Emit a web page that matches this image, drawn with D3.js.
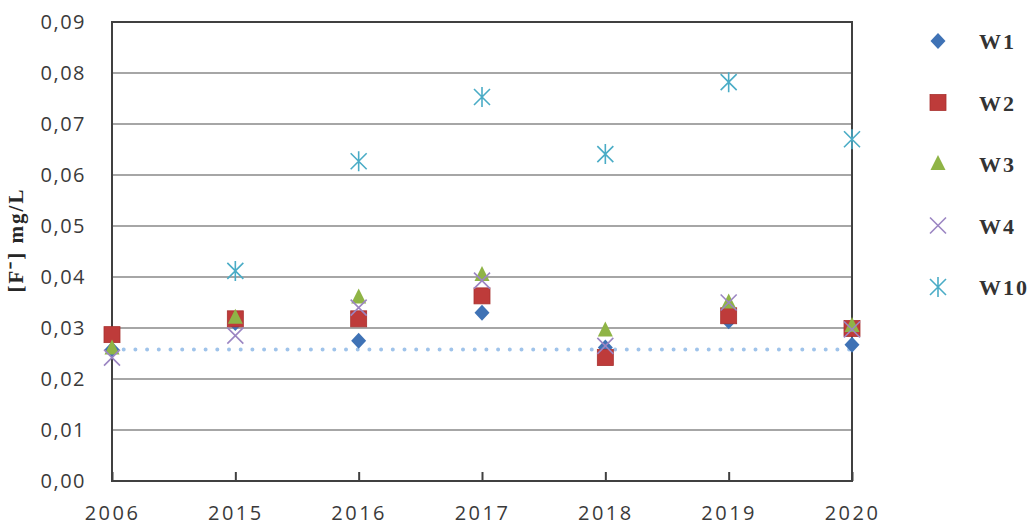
<!DOCTYPE html>
<html>
<head>
<meta charset="utf-8">
<script src="https://cdn.jsdelivr.net/npm/d3@7"></script>
<style>
  body { margin: 0; background: #fff; }
  svg { display: block; }
</style>
</head>
<body>
<div class="chart-container"></div>
<script>
// data
const years = ["2006", "2015", "2016", "2017", "2018", "2019", "2020"];
const w1  = [0.0258, 0.0310, 0.0275, 0.0330, 0.0262, 0.0313, 0.0267];
const w2  = [0.0287, 0.0318, 0.0318, 0.0363, 0.0242, 0.0324, 0.0299];
const w3  = [0.0260, 0.0320, 0.0360, 0.0404, 0.0295, 0.0350, 0.0304];
const w4  = [0.0242, 0.0285, 0.0340, 0.0393, 0.0265, 0.0350, 0.0297];
const w10 = [null,   0.0412, 0.0627, 0.0753, 0.0641, 0.0782, 0.0670];
const limit = 0.0258;
const yTicks = [0, 0.01, 0.02, 0.03, 0.04, 0.05, 0.06, 0.07, 0.08, 0.09];

const series = [
  {name: "W1",  values: w1,  shape: "diamond",  color: "#3f72b5"},
  {name: "W2",  values: w2,  shape: "square",   color: "#be3b3a"},
  {name: "W3",  values: w3,  shape: "triangle", color: "#8fb446"},
  {name: "W4",  values: w4,  shape: "x",        color: "#9b85c2"},
  {name: "W10", values: w10, shape: "star",     color: "#4aacc6"}
];

const W = 1036, H = 531;
const margin = {top: 22, right: 184, bottom: 50, left: 112};
const width = W - margin.left - margin.right,
      height = H - margin.top - margin.bottom;

const svg = d3.select(".chart-container")
  .append("svg")
  .attr("width", W)
  .attr("height", H);

const g = svg.append("g")
  .attr("transform", `translate(${margin.left},${margin.top})`);

const xScale = d3.scalePoint().domain(years).range([0, width]);
const yScale = d3.scaleLinear().domain([0, 0.09]).range([height, 0]);

const fmt = v => d3.format(".2f")(v).replace(".", ",");

// gridlines
g.append("g")
  .selectAll("line")
  .data(yTicks.slice(1, -1))
  .enter().append("line")
  .attr("x1", 0).attr("x2", width)
  .attr("y1", d => yScale(d)).attr("y2", d => yScale(d))
  .attr("stroke", "#a6a6a6")
  .attr("stroke-width", 2);

// y axis labels
const yAxis = g.append("g")
  .call(d3.axisLeft(yScale).tickValues(yTicks).tickFormat(fmt).tickSize(0).tickPadding(26));
yAxis.select(".domain").remove();
yAxis.selectAll("text")
  .attr("font-family", "'Open Sans', sans-serif")
  .attr("font-size", 20)
  .attr("letter-spacing", 1.5)
  .attr("fill", "#3a3a3a");

// x axis
const xAxis = g.append("g")
  .attr("transform", `translate(0,${height})`)
  .call(d3.axisBottom(xScale).tickSize(-9).tickPadding(25));
xAxis.select(".domain").remove();
xAxis.selectAll(".tick line")
  .attr("stroke", "#404040")
  .attr("stroke-width", 2);
xAxis.selectAll("text")
  .attr("font-family", "'Open Sans', sans-serif")
  .attr("font-size", 20)
  .attr("letter-spacing", 2.5)
  .attr("fill", "#3a3a3a");

// frame
g.append("rect")
  .attr("x", 0).attr("y", 0)
  .attr("width", width).attr("height", height)
  .attr("fill", "none")
  .attr("stroke", "#404040")
  .attr("stroke-width", 2);

// guideline value
g.append("line")
  .attr("x1", 0).attr("x2", width)
  .attr("y1", yScale(limit)).attr("y2", yScale(limit))
  .attr("stroke", "#9fc3ea")
  .attr("stroke-width", 4)
  .attr("stroke-linecap", "round")
  .attr("stroke-dasharray", "0 11.7");

// markers
function drawMarker(sel, shape, color) {
  if (shape === "diamond") {
    sel.append("path").attr("d", "M0,-8L7.5,0L0,8L-7.5,0Z").attr("fill", color);
  } else if (shape === "square") {
    sel.append("rect").attr("x", -8).attr("y", -8).attr("width", 16).attr("height", 16)
      .attr("fill", color).attr("stroke", "#a8312f").attr("stroke-width", 0.8);
  } else if (shape === "triangle") {
    sel.append("path").attr("d", "M0,-9L7.5,6L-7.5,6Z").attr("fill", color);
  } else if (shape === "x") {
    sel.append("path").attr("d", "M-8,-8L8,8M8,-8L-8,8")
      .attr("stroke", color).attr("stroke-width", 1.6).attr("fill", "none");
  } else if (shape === "star") {
    sel.append("path").attr("d", "M-8,-8L8,8M8,-8L-8,8M0,-10L0,10")
      .attr("stroke", color).attr("stroke-width", 1.6).attr("fill", "none");
  }
}

series.forEach(s => {
  const pts = g.append("g").selectAll("g")
    .data(s.values.map((v, i) => ({year: years[i], v})).filter(d => d.v != null))
    .enter().append("g")
    .attr("transform", d => `translate(${xScale(d.year)},${yScale(d.v)})`);
  drawMarker(pts, s.shape, s.color);
});

// legend
const legend = svg.append("g");
series.forEach((s, i) => {
  const y = 41 + i * 61.5;
  const m = legend.append("g").attr("transform", `translate(938,${y})`);
  drawMarker(m, s.shape, s.color);
  legend.append("text")
    .attr("x", 979).attr("y", y + 8)
    .attr("font-family", "'Liberation Serif', serif")
    .attr("font-weight", "bold")
    .attr("font-size", 22)
    .attr("letter-spacing", 2)
    .attr("fill", "#333")
    .text(s.name);
});

// y title
svg.append("text")
  .attr("transform", "translate(23,240) rotate(-90)")
  .attr("text-anchor", "middle")
  .attr("font-family", "'Liberation Serif', serif")
  .attr("font-weight", "bold")
  .attr("font-size", 21)
  .attr("letter-spacing", 2)
  .attr("fill", "#262626")
  .text("[F⁻] mg/L");
</script>
</body>
</html>
